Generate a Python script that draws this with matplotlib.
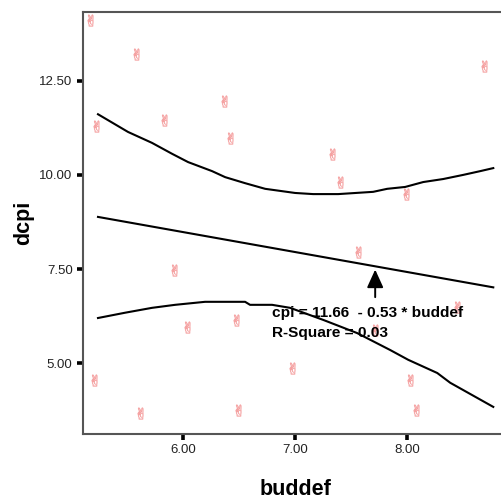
import matplotlib
matplotlib.use("Agg")
import matplotlib.pyplot as plt

# scatter points (buddef, dcpi)
pts_x = [5.167, 5.578, 5.221, 5.828, 6.363, 6.417, 7.329, 7.400, 7.988, 8.685,
         7.560, 5.917, 6.033, 6.470, 7.712, 8.444, 6.971, 5.203, 5.613, 6.488,
         8.024, 8.078]
pts_y = [14.11, 13.21, 11.30, 11.46, 11.96, 10.98, 10.55, 9.81, 9.49, 12.89,
         7.95, 7.47, 5.96, 6.14, 5.88, 6.49, 4.87, 4.55, 3.68, 3.76,
         4.55, 3.76]

# regression line endpoints
reg_x = [5.238, 8.766]
reg_y = [8.884, 7.014]

# upper prediction band
up_x = [5.238, 5.506, 5.720, 5.899, 6.042, 6.256, 6.373, 6.551, 6.730, 6.997,
        7.158, 7.382, 7.694, 7.819, 7.980, 8.141, 8.319, 8.498, 8.650, 8.766]
up_y = [11.61, 11.14, 10.85, 10.56, 10.34, 10.10, 9.94, 9.78, 9.63, 9.52,
        9.49, 9.49, 9.55, 9.63, 9.68, 9.81, 9.89, 10.00, 10.10, 10.18]

# lower prediction band
lo_x = [5.238, 5.479, 5.720, 5.926, 6.194, 6.551, 6.595, 6.792, 6.953, 7.248,
        7.551, 7.846, 8.007, 8.266, 8.382, 8.766]
lo_y = [6.20, 6.34, 6.47, 6.55, 6.63, 6.63, 6.55, 6.55, 6.47, 6.15,
        5.80, 5.35, 5.09, 4.74, 4.48, 3.84]

xticks = [6.0, 7.0, 8.0]
yticks = [5.0, 7.5, 10.0, 12.5]

plt.rcParams['font.family'] = ['Liberation Sans', 'DejaVu Sans']

fig = plt.figure(figsize=(5.02, 5.01), dpi=100)
ax = fig.add_axes([0.1653, 0.1337, 0.845, 0.842])

ax.scatter(pts_x, pts_y, marker='$\u270C$', s=70, color='#f5a0a0',
           edgecolors='#f5a0a0', linewidths=0.3, zorder=2)
ax.plot(reg_x, reg_y, color='black', lw=1.5, zorder=3)
ax.plot(up_x, up_y, color='black', lw=1.5, zorder=3)
ax.plot(lo_x, lo_y, color='black', lw=1.5, zorder=3)

ax.annotate('', xy=(7.712, 7.56), xytext=(7.712, 6.68),
            arrowprops=dict(arrowstyle='-|>,head_width=0.5,head_length=1.1',
                            color='black', lw=1.4), zorder=4)
ax.text(6.792, 6.33, 'cpi = 11.66  - 0.53 * buddef', fontsize=11.1,
        fontweight='bold', va='center', ha='left', zorder=5)
ax.text(6.792, 5.80, 'R-Square = 0.03', fontsize=11.1,
        fontweight='bold', va='center', ha='left', zorder=5)

ax.set_xlim(5.104, 8.89)
ax.set_ylim(3.12, 14.32)
ax.set_xticks(xticks)
ax.set_xticklabels([f'{v:.2f}' for v in xticks])
ax.set_yticks(yticks)
ax.set_yticklabels([f'{v:.2f}' for v in yticks])

for s in ax.spines.values():
    s.set_color('#555555')
    s.set_linewidth(1.5)
ax.spines['right'].set_visible(False)

ax.tick_params(direction='out', length=4.5, width=2.6, color='black',
               labelsize=9.5, labelcolor='#222222', pad=3)

ax.set_xlabel('buddef', fontsize=15.5, fontweight='bold', labelpad=16)
ax.set_ylabel('dcpi', fontsize=15.5, fontweight='bold', labelpad=4)

fig.savefig('out.png', dpi=100)
